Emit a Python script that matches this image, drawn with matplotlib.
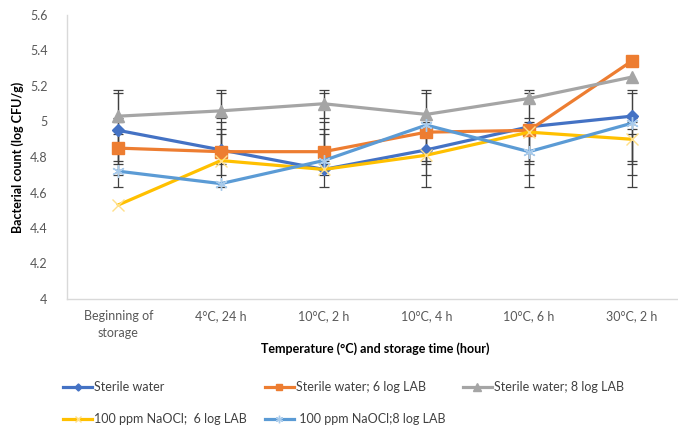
import numpy as np
import matplotlib
matplotlib.use("Agg")
import matplotlib.pyplot as plt

plt.rcParams['font.family'] = ['Lato', 'DejaVu Sans']

# categories along the x axis
categories = ['Beginning of\nstorage', '4°C, 24 h', '10°C, 2 h',
              '10°C, 4 h', '10°C, 6 h', '30°C, 2 h']

# bacterial counts (log CFU/g)
sterile = [4.95, 4.84, 4.73, 4.84, 4.97, 5.03]
sterile_6lab = [4.85, 4.83, 4.83, 4.94, 4.95, 5.34]
sterile_8lab = [5.03, 5.06, 5.10, 5.04, 5.13, 5.25]
naocl_6lab = [4.53, 4.78, 4.73, 4.81, 4.94, 4.90]
naocl_8lab = [4.72, 4.65, 4.78, 4.98, 4.83, 4.99]

# error bar ends (same for every category, excel style)
err_lo = [4.78, 4.76, 5.02, 4.63, 4.70]
err_hi = [5.00, 5.16, 5.18, 4.93, 4.96]

labels = ['Sterile water', 'Sterile water; 6 log LAB', 'Sterile water; 8 log LAB',
          '100 ppm NaOCl;  6 log LAB', ' 100 ppm NaOCl;8 log LAB']
colors = ['#4472C4', '#ED7D31', '#A5A5A5', '#FFC000', '#5B9BD5']
markers = ['D', 's', '^', 'x', (6, 2, 0)]
msizes = [6, 8, 9, 8, 9]

yticks = [4, 4.2, 4.4, 4.6, 4.8, 5, 5.2, 5.4, 5.6]
ytick_labels = ['4', '4.2', '4.4', '4.6', '4.8', '5', '5.2', '5.4', '5.6']

fig = plt.figure(figsize=(6.78, 4.30), dpi=100)
ax = fig.add_axes([67/678, 131/430, 616/678, 284/430])

x = np.arange(len(categories))
series = [sterile, sterile_6lab, sterile_8lab, naocl_6lab, naocl_8lab]

# error bars : centred on the series range, not on the points
for i in range(len(series)):
    mid = (err_lo[i] + err_hi[i]) / 2
    half = (err_hi[i] - err_lo[i]) / 2
    ax.errorbar(x, np.full(len(x), mid), yerr=half, fmt='none', ecolor='#404040',
                elinewidth=0.9, capsize=3.5, capthick=0.9, zorder=1)

lines = []
for i, vals in enumerate(series):
    light = i >= 3
    ln, = ax.plot(x, vals, color=colors[i], lw=2.3, marker=markers[i], ms=msizes[i],
                  mec=('#FFE08A' if i == 3 else '#A9CBEB') if light else colors[i],
                  mfc=colors[i], mew=1.0, label=labels[i], zorder=3)
    lines.append(ln)

ax.set_xlim(-0.5, 5.5)
ax.set_ylim(4, 5.6)
ax.set_yticks(yticks)
ax.set_yticklabels(ytick_labels)
ax.set_xticks(x)
ax.set_xticklabels(categories, linespacing=1.5)
ax.tick_params(length=0, labelsize=9, colors='#595959', pad=8)
ax.tick_params(axis='y', pad=14)
for s in ['top', 'right']:
    ax.spines[s].set_visible(False)
for s in ['left', 'bottom']:
    ax.spines[s].set_color('#D9D9D9')
    ax.spines[s].set_linewidth(1)

ax.set_xlabel('Temperature (°C) and storage time (hour)', fontsize=9,
              fontweight='bold', labelpad=2)
ax.set_ylabel('Bacterial count (log CFU/g)', fontsize=9, fontweight='bold',
              labelpad=4)

# legend filled row by row
order = [0, 3, 1, 4, 2]
fig.legend([lines[k] for k in order], [labels[k] for k in order],
           loc='upper left', bbox_to_anchor=(52/678, 1 - 370/430), ncol=3,
           frameon=False, fontsize=9, handlelength=2.3, handletextpad=0.2,
           columnspacing=1.4, labelspacing=1.6, markerscale=0.6,
           labelcolor='#404040')

fig.savefig('out.png', dpi=100)
